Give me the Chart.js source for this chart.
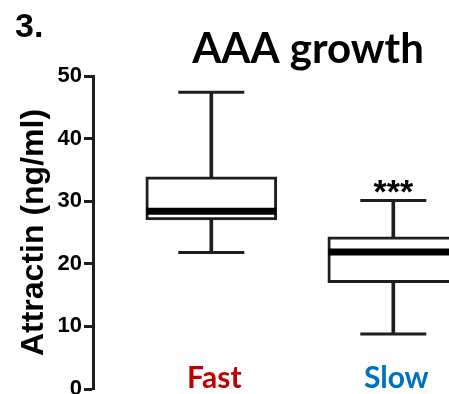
<!DOCTYPE html>
<html>
<head>
<meta charset="utf-8">
<script src="https://cdn.jsdelivr.net/npm/chart.js@4/dist/chart.umd.min.js"></script>
<style>
  html, body { margin: 0; padding: 0; background: #fff; overflow: hidden; }
  canvas { display: block; }
</style>
</head>
<body>
<canvas id="boxChart" width="449" height="394" style="width:449px;height:394px"></canvas>
<script>
// DATA
let groups = ['Fast', 'Slow'];
let groupColors = ['#c00000', '#0070c0'];
let maxVals = [47.4, 30.1];
let q3Vals = [33.9, 24.3];
let medianVals = [28.4, 21.9];
let q1Vals = [27.0, 17.0];
let minVals = [21.8, 8.8];
let sigMarks = ['', '***'];
let yTicks = [0, 10, 20, 30, 40, 50];
let yLabel = 'Attractin (ng/ml)';
let chartTitle = 'AAA growth';
let panelLabel = '3.';

let lineColor = '#1e1e1e';

// build datasets from the arrays
let pos = groups.map((g, i) => i + 1);
let boxData = pos.map((x, i) => ({ x: x, y: [q1Vals[i], q3Vals[i]] }));
let whiskerData = [];
let capData = [];
pos.forEach((x, i) => {
    whiskerData.push({ x: x, y: [minVals[i], q1Vals[i]] });
    whiskerData.push({ x: x, y: [q3Vals[i], maxVals[i]] });
    capData.push({ x: x, y: minVals[i] });
    capData.push({ x: x, y: maxVals[i] });
});
let medianData = pos.map((x, i) => ({ x: x, y: medianVals[i] }));

// title, panel label, group labels and significance stars
// (the figure is cropped on the right, so the title sits right of the canvas centre)
const extraText = {
    id: 'extraText',
    afterDatasetsDraw(chart) {
        let ctx = chart.ctx;
        let xs = chart.scales.x, ys = chart.scales.y;
        ctx.save();
        ctx.fillStyle = '#000';
        ctx.font = 'bold 42px Lato, sans-serif';
        ctx.textAlign = 'center';
        ctx.textBaseline = 'middle';
        ctx.fillText(chartTitle, 308, 49);

        ctx.textBaseline = 'alphabetic';
        ctx.font = 'bold 34px "Liberation Sans", Arial, sans-serif';
        ctx.textAlign = 'left';
        ctx.fillText(panelLabel, 15, 37);

        ctx.textAlign = 'center';
        for (let i = 0; i < groups.length; i++) {
            if (!sigMarks[i]) continue;
            ctx.fillText(sigMarks[i], xs.getPixelForValue(pos[i]), ys.getPixelForValue(maxVals[i]) + 2);
        }

        ctx.font = 'bold 30px Lato, sans-serif';
        for (let i = 0; i < groups.length; i++) {
            ctx.fillStyle = groupColors[i];
            ctx.fillText(groups[i], xs.getPixelForValue(pos[i]) + 3, chart.chartArea.bottom - 1);
        }
        ctx.restore();
    }
};

let ctx = document.getElementById('boxChart').getContext('2d');
let boxChart = new Chart(ctx, {
    type: 'bar',
    data: {
        datasets: [
            {
                type: 'scatter',
                data: capData,
                pointStyle: 'line',
                pointRadius: 33,
                pointHoverRadius: 33,
                pointBorderWidth: 3,
                pointBorderColor: lineColor,
                order: 1
            },
            {
                type: 'scatter',
                data: medianData,
                pointStyle: 'line',
                pointRadius: 65,
                pointHoverRadius: 65,
                pointBorderWidth: 7,
                pointBorderColor: '#000',
                order: 2
            },
            {
                data: boxData,
                backgroundColor: '#ffffff',
                borderColor: lineColor,
                borderWidth: 3,
                borderSkipped: false,
                barThickness: 131,
                grouped: false,
                order: 3
            },
            {
                data: whiskerData,
                backgroundColor: lineColor,
                borderWidth: 0,
                barThickness: 3,
                grouped: false,
                order: 4
            }
        ]
    },
    options: {
        responsive: false,
        animation: false,
        devicePixelRatio: 1,
        layout: { autoPadding: false, padding: { top: 76, left: 0, right: 0, bottom: 0 } },
        plugins: {
            legend: { display: false },
            tooltip: { enabled: false },
            title: { display: false }
        },
        scales: {
            x: {
                type: 'linear',
                min: 0.35,
                max: 2.306,
                offset: false,
                border: { display: false },
                grid: { display: false, drawTicks: false },
                ticks: { display: false },
                afterFit: (scale) => { scale.height = 5; }
            },
            y: {
                min: 0,
                max: 50,
                afterBuildTicks: (scale) => { scale.ticks = yTicks.map(v => ({ value: v })); },
                afterFit: (scale) => {
                    scale.width = 93;
                    scale.paddingBottom = 0;
                    scale.paddingTop = 0;
                },
                border: { display: true, width: 3, color: lineColor },
                grid: {
                    display: true,
                    drawOnChartArea: false,
                    drawTicks: true,
                    tickLength: 9,
                    tickWidth: 3,
                    tickColor: lineColor
                },
                ticks: {
                    padding: 2,
                    color: '#000',
                    font: { family: '"Liberation Sans", Arial, sans-serif', weight: 'bold', size: 22 }
                },
                title: {
                    display: true,
                    text: yLabel,
                    color: '#000',
                    font: { family: '"Liberation Sans", Arial, sans-serif', weight: 'bold', size: 32 },
                    padding: { top: 15, bottom: 0 }
                }
            }
        }
    },
    plugins: [extraText]
});
</script>
</body>
</html>
